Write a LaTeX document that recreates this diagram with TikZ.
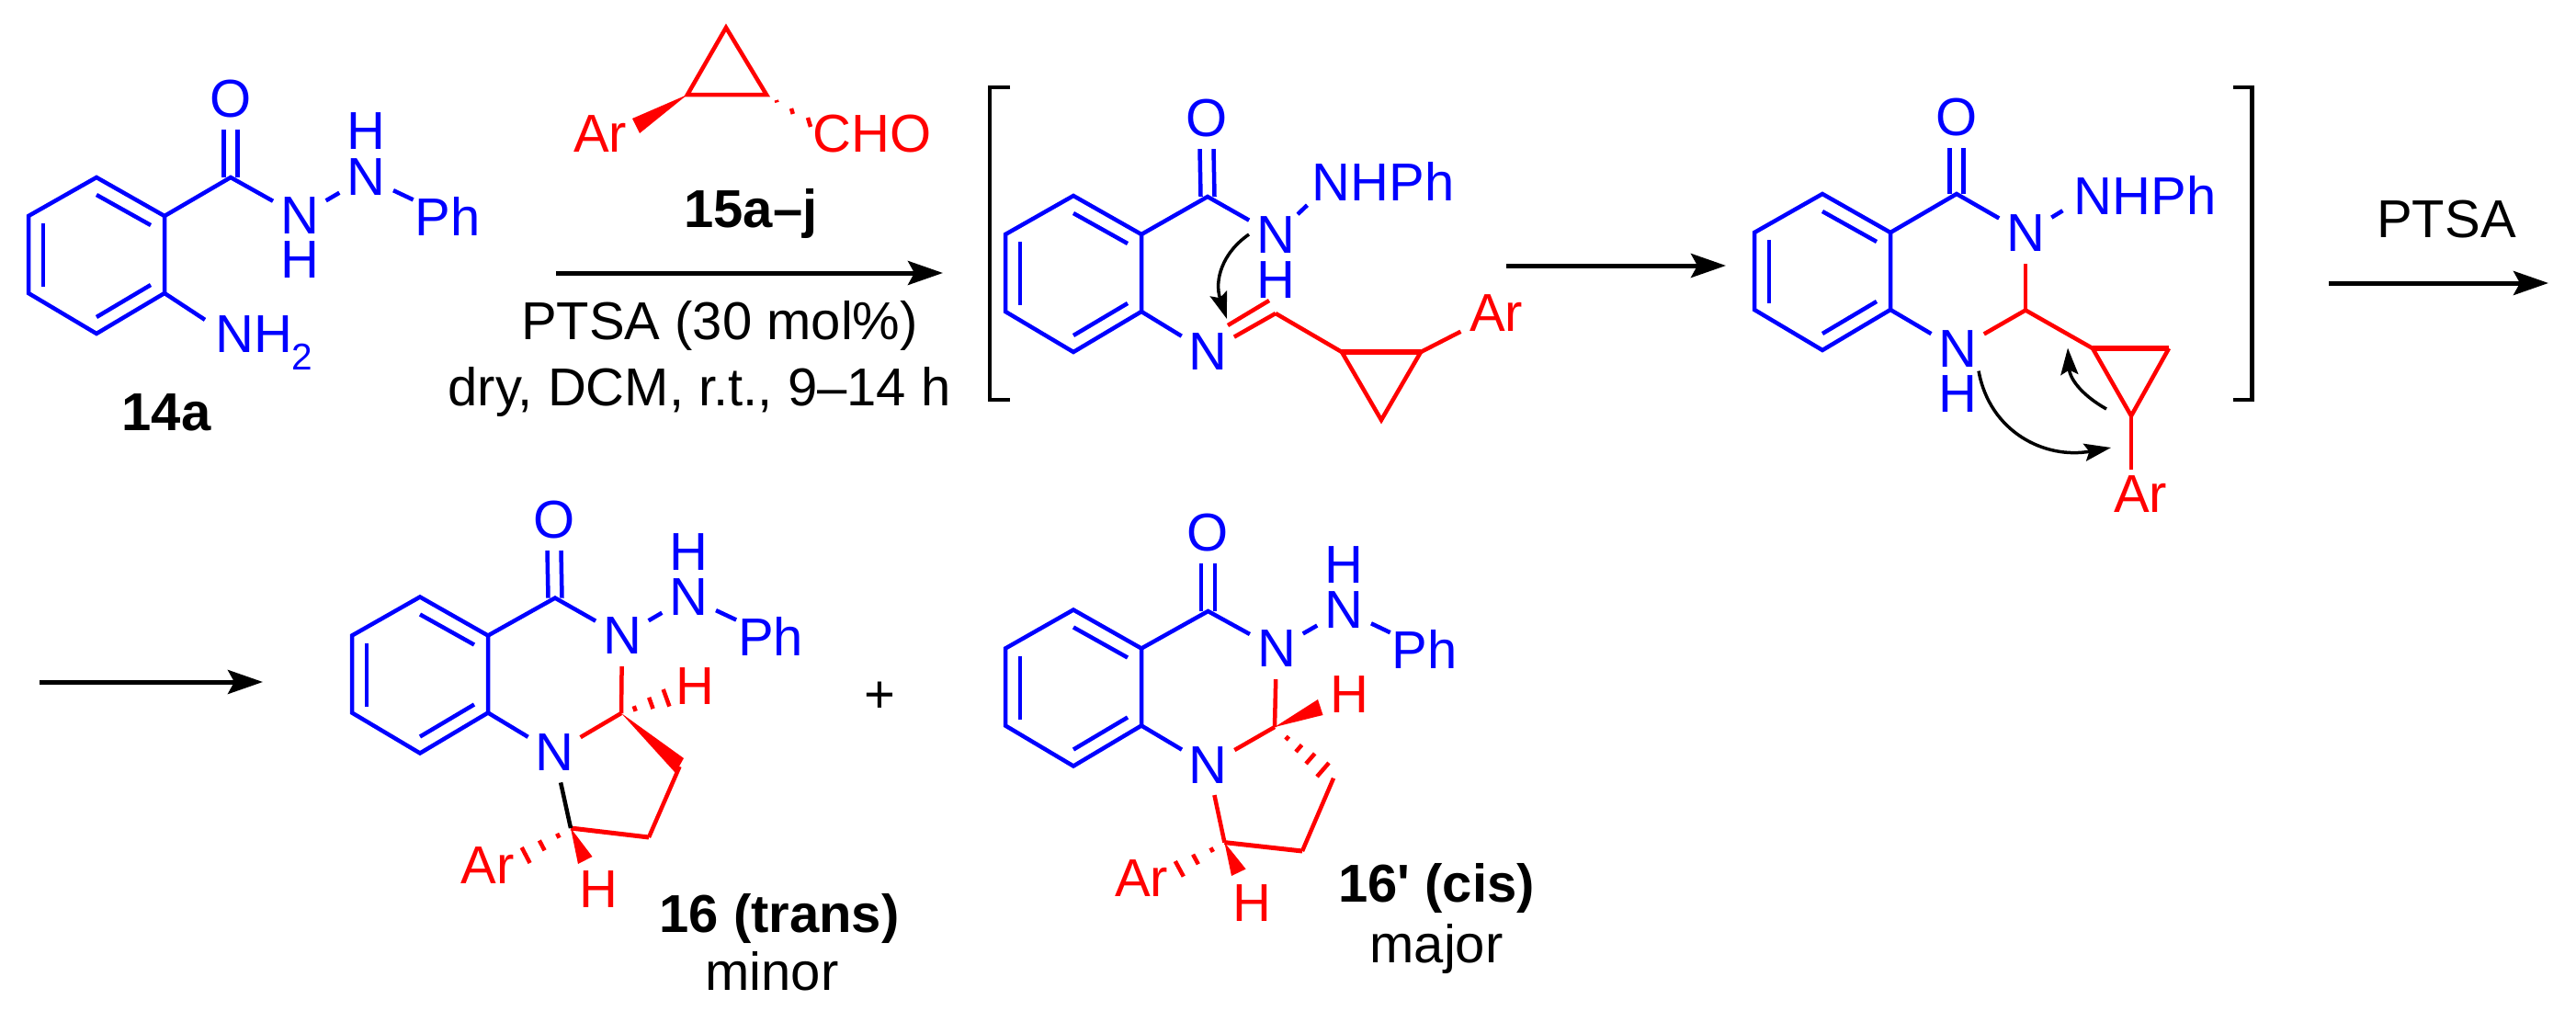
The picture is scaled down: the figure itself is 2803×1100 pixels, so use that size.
\documentclass[tikz,border=0pt]{standalone}
\usepackage{fontspec}
\setmainfont{Liberation Sans}[Ligatures=TeXOff]
\usetikzlibrary{arrows.meta}
\usetikzlibrary{calc}
\newcommand{\chemsize}{\fontsize{58}{60}\selectfont}
\newcommand{\dbl}{7.5pt}
\tikzstyle{atom} = [circle, inner sep=0pt, minimum size=66pt, text=blue]
\tikzstyle{redatom} = [atom, text=red]
\tikzstyle{word} = [inner sep=5pt, text=blue]
\tikzstyle{redword} = [inner sep=0pt, text=red]
\tikzstyle{caption} = [inner sep=0pt, anchor=base]
\tikzstyle{cmpd} = [caption, font=\chemsize\bfseries]
\tikzstyle{bondb} = [draw=blue, line width=4.5pt, line join=miter]
\tikzstyle{bondr} = [draw=red, line width=4.5pt, line join=miter]
\tikzstyle{bondk} = [draw=black, line width=4.5pt]
\tikzstyle{wedge} = [fill=red, draw=none]
\tikzstyle{rxnarrow} = [-{Stealth[length=38pt,width=26pt,inset=7pt]}, line width=5pt]
\tikzstyle{curly} = [-{Stealth[length=29pt,width=19pt,inset=5pt]}, line width=3.5pt]
\tikzstyle{bracket} = [line width=4.5pt, line join=miter]

% six vertices of a benzene ring: name, x and y of the top vertex
\newcommand{\benzring}[3]{
  \coordinate (#1a) at (#2,#3);
  \coordinate (#1b) at (#2+74,#3+42);
  \coordinate (#1c) at (#2+74,#3+126);
  \coordinate (#1d) at (#2,#3+170);
  \coordinate (#1e) at (#2-74,#3+126);
  \coordinate (#1f) at (#2-74,#3+42);
  \draw [bondb] (#1a) -- (#1b) -- (#1c) -- (#1d) -- (#1e) -- (#1f) -- cycle;
  \draw [bondb] (#2,#3+19) -- (#2+59,#3+52);
  \draw [bondb] (#2-58,#3+50) -- (#2-58,#3+119);
  \draw [bondb] (#2,#3+152) -- (#2+59,#3+117);
}
% C=O bond between a carbon and its oxygen
\newcommand{\carbonyl}[2]{
  \draw [bondb] ([xshift=-\dbl]#1) -- ([xshift=-\dbl]#2.south);
  \draw [bondb] ([xshift=\dbl]#1) -- ([xshift=\dbl]#2.south);
}
% hashed bond: from, the two ends of the last dash, positions of the dashes
\newcommand{\hashbond}[4]{
  \foreach \t in {#4} {
    \draw [bondr] ($(#1)!\t!(#2)$) -- ($(#1)!\t!(#3)$);
  }
}

\begin{document}
\begin{tikzpicture}[x=1pt,y=-1pt,font=\chemsize]
  \useasboundingbox (0,0) rectangle (2803,1100);

  % 14a
  \benzring{sm}{105}{193}
  \coordinate (smco) at (251,193);
  \node (smo) [atom] at (251,108) {O};
  \node (smn) [atom] at (326,235) {N};
  \node (smh) [atom] at (326,283) {H};
  \node (smnn) [atom] at (398,193) {N};
  \node (smnh) [atom] at (398,143) {H};
  \node (smph) [atom] at (487,235) {Ph};
  \node (smnh2) [word, inner sep=0pt, anchor=base west] at (234,383) {NH\textsubscript{2}};
  \carbonyl{smco}{smo}
  \draw [bondb] (smb) -- (smco) -- (smn);
  \draw [bondb] (smn) -- (smnn);
  \draw [bondb] (smnn) -- (smph);
  \draw [bondb] (smc) -- ([xshift=-11pt,yshift=-5pt]smnh2.north west);
  \node (smlabel) [cmpd] at (181,468) {14a};

  % 15a-j
  \coordinate (cpa) at (790,30);
  \coordinate (cpb) at (748,103);
  \coordinate (cpc) at (834,103);
  \coordinate (cphA) at (879,128);
  \coordinate (cphB) at (882,138);
  \coordinate (cpwA) at (688,129);
  \coordinate (cpwB) at (696,145);
  \draw [bondr] (cpa) -- (cpb) -- (cpc) -- cycle;
  \fill [wedge] (cpb) -- (cpwA) -- (cpwB) -- cycle;
  \hashbond{cpc}{cphA}{cphB}{0.24,0.6,1}
  \node (cpar) [redatom] at (653,146) {Ar};
  \node (cpcho) [redword] at (949,146) {CHO};
  \node (cplabel) [cmpd] at (817,247) {15a–j};

  % first arrow and conditions
  \coordinate (ara) at (605,297);
  \coordinate (arb) at (1026,297);
  \draw [rxnarrow] (ara) -- (arb);
  \node (cond1) [caption] at (783,369) {PTSA (30 mol\%)};
  \node (cond2) [caption] at (761,441) {dry, DCM, r.t., 9–14 h};

  % left bracket
  \draw [bracket] (1099,95) -- (1077,95) -- (1077,435) -- (1099,435);

  % imine intermediate
  \benzring{im}{1168}{213}
  \coordinate (imco) at (1314,214);
  \coordinate (imch) at (1388,341);
  \coordinate (imdba) at (1336,354);
  \coordinate (imdbb) at (1381,327);
  \coordinate (imcpa) at (1460,383);
  \coordinate (imcpb) at (1546,383);
  \coordinate (imcpc) at (1503,457);
  \node (imo) [atom] at (1313,129) {O};
  \node (imn) [atom] at (1388,256) {N};
  \node (imh) [atom] at (1388,305) {H};
  \node (imnhph) [word] at (1505,197) {NHPh};
  \node (imnb) [atom] at (1314,383) {N};
  \node (imar) [redatom] at (1628,341) {Ar};
  \carbonyl{imco}{imo}
  \draw [bondb] (imb) -- (imco) -- (imn);
  \draw [bondb] (imn) -- (imnhph.south west);
  \draw [bondb] (imc) -- (imnb);
  \draw [bondr] (imch) -- (imnb);
  \draw [bondr] (imdba) -- (imdbb);
  \draw [bondr] (imch) -- (imcpa);
  \draw [bondr] (imcpa) -- (imcpc) -- (imcpb);
  \draw [bondr, line width=6.5pt] (imcpa) -- (imcpb);
  \draw [bondr, shorten >=8pt] (imcpb) -- (imar);
  % NH to imine carbon
  \coordinate (imcs) at (1359,255);
  \coordinate (imct) at (1335,347);
  \draw [curly] (imcs) .. controls (1330,275) and (1321,305) .. (imct);

  % second arrow
  \coordinate (arc) at (1639,289);
  \coordinate (ard) at (1878,289);
  \draw [rxnarrow] (arc) -- (ard);

  % cyclised intermediate
  \benzring{ci}{1983}{211}
  \coordinate (cico) at (2129,211);
  \coordinate (cich) at (2204,337.5);
  \coordinate (cicpa) at (2277,379);
  \coordinate (cicpb) at (2360,379);
  \coordinate (cicpc) at (2319,452.5);
  \node (cio) [atom] at (2129,127.5) {O};
  \node (cin) [atom] at (2204,254) {N};
  \node (cinhph) [word] at (2334,212) {NHPh};
  \node (cinb) [atom] at (2130,380) {N};
  \node (cih) [atom] at (2130,428.6) {H};
  \node (ciar) [redatom] at (2329,538) {Ar};
  \carbonyl{cico}{cio}
  \draw [bondb] (cib) -- (cico) -- (cin);
  \draw [bondb] (cin) -- ([xshift=-7pt,yshift=9pt]cinhph.south west);
  \draw [bondb] (cic) -- (cinb);
  \draw [bondr] (cin) -- (cich);
  \draw [bondr] (cich) -- (cinb);
  \draw [bondr] (cich) -- (cicpa);
  \draw [bondr] (cicpa) -- (cicpc) -- (cicpb);
  \draw [bondr, line width=6.5pt] (cicpa) -- (cicpb);
  \draw [bondr] (cicpc) -- ([xshift=-10pt,yshift=-8pt]ciar.north);
  % electron pushing
  \coordinate (cics) at (2153,403.6);
  \coordinate (cict) at (2297,487);
  \coordinate (cius) at (2292,445);
  \coordinate (ciut) at (2250,378.6);
  \draw [curly] (cics) .. controls (2165,470) and (2225,500) .. (cict);
  \draw [curly] (cius) .. controls (2262,428) and (2252,410) .. (ciut);

  % right bracket
  \draw [bracket] (2430,95) -- (2450.5,95) -- (2450.5,435) -- (2430,435);

  % third arrow
  \node (ptsa) [caption] at (2662,258) {PTSA};
  \coordinate (are) at (2534,308);
  \coordinate (arf) at (2773,308);
  \draw [rxnarrow] (are) -- (arf);

  % second row arrow
  \coordinate (arg) at (43,742);
  \coordinate (arh) at (286,742);
  \draw [rxnarrow] (arg) -- (arh);

  % 16 (trans)
  \benzring{tr}{457}{649.5}
  \coordinate (trco) at (604,650.6);
  \coordinate (trch) at (676,776);
  \coordinate (trwA) at (744,825);
  \coordinate (trwB) at (735,841);
  \coordinate (trcb) at (739.5,834);
  \coordinate (trcc) at (706,911);
  \coordinate (trcd) at (621,901);
  \coordinate (trhA) at (721.7,750);
  \coordinate (trhB) at (728.4,768.6);
  \coordinate (trwC) at (644.5,932);
  \coordinate (trwD) at (629,940);
  \coordinate (traA) at (567.7,922);
  \coordinate (traB) at (576.6,939);
  \node (tro) [atom] at (603,566) {O};
  \node (trn) [atom] at (677,692) {N};
  \node (trnn) [atom] at (749,650) {N};
  \node (trnh) [atom] at (749,600.6) {H};
  \node (trph) [atom] at (838.5,692) {Ph};
  \node (trnb) [atom] at (603,819) {N};
  \node (trh) [redatom] at (756.5,747) {H};
  \node (trhb) [redatom] at (651,967.6) {H};
  \node (trar) [redatom] at (530.5,941.5) {Ar};
  \carbonyl{trco}{tro}
  \draw [bondb] (trb) -- (trco) -- (trn);
  \draw [bondb] (trn) -- (trnn);
  \draw [bondb] (trnn) -- (trph);
  \draw [bondb] (trc) -- (trnb);
  \draw [bondr] (trn) -- (trch);
  \draw [bondr] (trch) -- (trnb);
  \fill [wedge] (trch) -- (trwA) -- (trwB) -- cycle;
  \hashbond{trch}{trhA}{trhB}{0.3,0.66,1}
  \draw [bondr] (trcb) -- (trcc);
  \draw [bondr, line width=5pt] (trcc) -- (trcd);
  \draw [bondk] (trcd) -- (trnb);
  \fill [wedge] (trcd) -- (trwC) -- (trwD) -- cycle;
  \hashbond{trcd}{traA}{traB}{0.28,0.64,1}
  \node (trlabel) [cmpd] at (848,1014) {16 (trans)};
  \node (trminor) [caption] at (840,1077) {minor};

  \node (plus) [caption] at (957,775) {+};

  % 16' (cis)
  \benzring{cs}{1168}{663.5}
  \coordinate (csco) at (1314.5,665);
  \coordinate (csch) at (1387,791);
  \coordinate (cswA) at (1434,761);
  \coordinate (cswB) at (1439.5,778);
  \coordinate (cshA) at (1433,845);
  \coordinate (cshB) at (1446,830);
  \coordinate (cscb) at (1451,846.7);
  \coordinate (cscc) at (1417,926);
  \coordinate (cscd) at (1332.4,916.6);
  \coordinate (cswC) at (1355.6,945.5);
  \coordinate (cswD) at (1340,953);
  \coordinate (csaA) at (1278.8,937);
  \coordinate (csaB) at (1287.8,953.6);
  \node (cso) [atom] at (1314.5,580) {O};
  \node (csn) [atom] at (1389,706) {N};
  \node (csnn) [atom] at (1462,664) {N};
  \node (csnh) [atom] at (1462,615) {H};
  \node (csph) [atom] at (1550,706) {Ph};
  \node (csnb) [atom] at (1314.5,832.6) {N};
  \node (csh) [redatom] at (1468,755.7) {H};
  \node (cshb) [redatom] at (1362,983) {H};
  \node (csar) [redatom] at (1242,956) {Ar};
  \carbonyl{csco}{cso}
  \draw [bondb] (csb) -- (csco) -- (csn);
  \draw [bondb] (csn) -- (csnn);
  \draw [bondb] (csnn) -- (csph);
  \draw [bondb] (csc) -- (csnb);
  \draw [bondr] (csn) -- (csch);
  \draw [bondr] (csch) -- (csnb);
  \fill [wedge] (csch) -- (cswA) -- (cswB) -- cycle;
  \hashbond{csch}{cshA}{cshB}{0.26,0.5,0.74,1}
  \draw [bondr] (cscb) -- (cscc);
  \draw [bondr, line width=5pt] (cscc) -- (cscd);
  \draw [bondr] (cscd) -- (csnb);
  \fill [wedge] (cscd) -- (cswC) -- (cswD) -- cycle;
  \hashbond{cscd}{csaA}{csaB}{0.28,0.64,1}
  \node (cslabel) [cmpd] at (1563,981.7) {16' (cis)};
  \node (csmajor) [caption] at (1563,1047) {major};

\end{tikzpicture}
\end{document}
